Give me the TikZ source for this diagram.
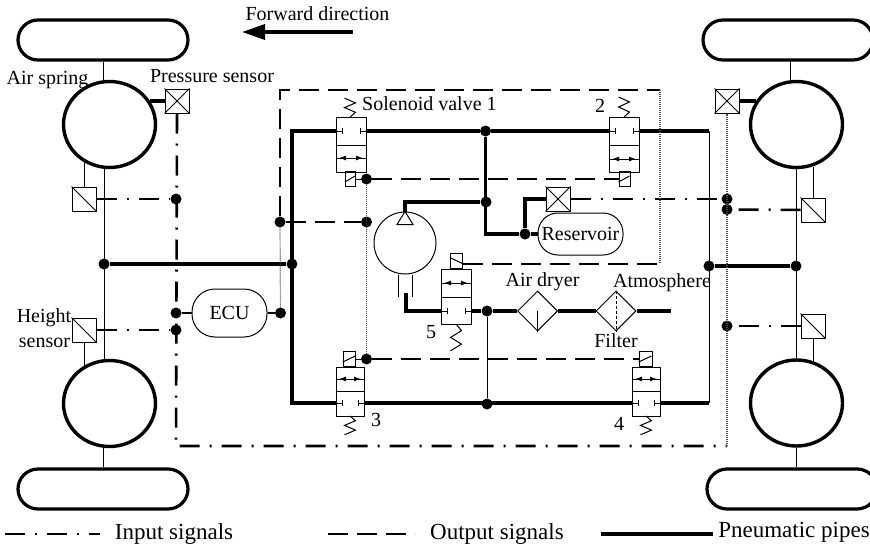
\documentclass[tikz,border=0pt]{standalone}
\usepackage{fontspec}
\setmainfont{Liberation Serif}
\usetikzlibrary{shapes.geometric}
\usetikzlibrary{arrows.meta}
\tikzset{
  tyre/.style={draw, line width=3.2pt, rounded corners=20pt, minimum width=170pt, minimum height=40pt},
  wheel/.style={draw, ellipse, line width=3.4pt, minimum width=92pt, minimum height=86pt},
  sensorbox/.style={draw, rectangle, fill=white, line width=1pt, minimum size=24pt, inner sep=0pt},
  valvebox/.style={draw, rectangle, line width=1pt, inner sep=0pt},
  capsule/.style={draw, rectangle, line width=1pt, align=center, font=\fontsize{20}{22}\selectfont},
  filterbox/.style={draw, diamond, fill=white, line width=1pt, minimum size=40pt, inner sep=0pt},
  dot/.style={circle, fill=black, inner sep=0pt, minimum size=11pt},
  thinline/.style={line width=1pt},
  pipe/.style={line width=3.6pt},
  inputline/.style={line width=2.6pt, dash pattern=on 20pt off 10pt on 2pt off 10pt},
  outputline/.style={line width=2.6pt, dash pattern=on 20pt off 9pt},
  busline/.style={line width=1.2pt, black!70, dash pattern=on 1pt off 1pt},
  txt/.style={inner sep=0pt, font=\fontsize{20}{22}\selectfont},
  keytxt/.style={inner sep=0pt, font=\fontsize{23}{25}\selectfont},
}
\begin{document}
\begin{tikzpicture}[x=1pt,y=-1pt]
  \useasboundingbox (0,0) rectangle (870,546);
  % Tyres and air springs
  \node[tyre] (tyreTL) at (103,40) {};
  \node[tyre] (tyreTR) at (788,40) {};
  \node[tyre] (tyreBL) at (103,489) {};
  \node[tyre] (tyreBR) at (792,489) {};
  \node[wheel] (wheelTL) at (109.5,124.5) {};
  \node[wheel] (wheelTR) at (796.5,124.5) {};
  \node[wheel] (wheelBL) at (109.5,403.5) {};
  \node[wheel] (wheelBR) at (796.5,403) {};
  \coordinate (stemTR) at (790,60);
  \draw[thinline] (tyreTL.south) -- (tyreTL.south |- wheelTL.north);
  \draw[thinline] (tyreBL.north) -- (tyreBL.north |- wheelBL.south);
  \draw[thinline] (stemTR) -- (stemTR |- wheelTR.north);
  \draw[thinline] (wheelBR.south) -- (wheelBR.south |- tyreBR.north);

  % Sensors
  \node[sensorbox] (psTL) at (177,101) {};
  \node[sensorbox] (psTR) at (727,101) {};
  \node[sensorbox] (psM) at (558,199) {};
  \node[sensorbox] (hsTL) at (84,199) {};
  \node[sensorbox] (hsBL) at (84,330) {};
  \node[sensorbox] (hsTR) at (813,210) {};
  \node[sensorbox] (hsBR) at (813,326) {};
  \foreach \name in {psTL,psTR,psM}{
    \draw[thinline] (\name.north west) -- (\name.south east);
    \draw[thinline] (\name.north east) -- (\name.south west);
  }
  \foreach \name in {hsTL,hsBL,hsTR,hsBR}{
    \draw[thinline] (\name.north west) -- (\name.south east);
  }
  \draw[pipe] (psTL.west) -- (psTL.west -| wheelTL.30);
  \draw[pipe] (psTR.east) -- (psTR.east -| wheelTR.150);
  \draw[thinline] (hsTL.north) -- (hsTL.north |- wheelTL.235);
  \draw[thinline] (hsBL.south) -- (hsBL.south |- wheelBL.125);
  \draw[thinline] (hsTR.north) -- (hsTR.north |- wheelTR.-70);
  \draw[thinline] (hsBR.south) -- (hsBR.south |- wheelBR.70);

  % Valves
  \foreach \name/\lx/\rx/\ty/\by/\dy/\py/\ay in {
      v1/336/366/117/172/145/131/158, v2/609/639/117/172/145/131/159,
      v3/336/364/367/416/391/403/379, v4/632/660/367/416/391/403/379,
      v5/441/471/269/324/297/311/283}{
    \node[valvebox, minimum width=\rx-\lx, minimum height=\by-\ty] (\name) at ({(\lx+\rx)/2},{(\ty+\by)/2}) {};
    \coordinate (\name-l) at (\lx,\py);
    \coordinate (\name-r) at (\rx,\py);
    \draw[thinline] (\lx,\dy) -- (\rx,\dy);
    \draw[thinline] (\name-l) -- ++(6,0) ++(0,-3) -- ++(0,6);
    \draw[thinline] (\name-r) -- ++(-6,0) ++(0,-3) -- ++(0,6);
    \draw[thinline] (\lx,\ay) -- (\rx,\ay);
    \draw[-{Latex[length=7pt,width=5pt]},thinline] ({\lx+12},\ay) -- ({\lx+3},\ay);
    \draw[-{Latex[length=7pt,width=5pt]},thinline] ({\rx-12},\ay) -- ({\rx-3},\ay);
  }
  % Springs
  \foreach \cx/\sy/\sd/\st in {350/117/-1/4.7, 624/117/-1/5, 350/416/1/4.7, 646/416/1/4.7, 456/324/1/6.7}{
    \draw[thinline] (\cx,\sy) -- ++(5.5,\sd*\st) -- ++(-11,\sd*\st) -- ++(11,\sd*\st) -- ++(-11,\sd*\st);
  }
  % Coils
  \foreach \name/\cx/\cy/\cw/\sl in {c1/350.5/179/10/1, c2/624.5/179/11/1, c3/349.5/359/12.5/1, c4/645.5/359/13/1, c5/456.5/260.5/12.5/-1}{
    \node[valvebox, minimum width=\cw, minimum height=15] (\name) at (\cx,\cy) {};
    \draw[thinline] (\name.west) ++(0,\sl*3) -- ++(\cw,-\sl*6);
  }

  % Pump, tank, filters, ECU
  \node[draw, circle, thinline, minimum size=62pt, inner sep=0pt] (pump) at (405,243) {};
  \draw[thinline] (pump.north) -- ++(-8,13) -- ++(16,0) -- cycle;
  \draw[thinline] ([xshift=-7pt]pump.south) -- ++(0,22);
  \draw[thinline] ([xshift=7pt]pump.south) -- ++(0,22);
  \node[capsule, rounded corners=20pt, minimum width=85pt, minimum height=42pt] (tank) at (580.5,234) {Reservoir};
  \node[capsule, rounded corners=23pt, minimum width=75pt, minimum height=48pt] (ecu) at (229.5,313) {ECU};
  \node[filterbox] (dryer) at (537.5,311) {};
  \node[filterbox] (filter) at (616,311) {};
  \draw[thinline] (dryer.south) -- (dryer.center);
  \draw[thinline, densely dashed] (filter.north) -- (filter.south);

  % Junctions
  \node[dot] (axleL) at (104,264) {};
  \node[dot] (axleM) at (292,264) {};
  \node[dot] (axleN) at (709,266) {};
  \node[dot] (axleR) at (796,266) {};
  \node[dot] (inA) at (176,199) {};
  \node[dot] (inB) at (176,313) {};
  \node[dot] (inC) at (176,330) {};
  \node[dot] (inD) at (727,199) {};
  \node[dot] (inE) at (727,209.5) {};
  \node[dot] (inF) at (727,326) {};
  \node[dot] (outA) at (280,222) {};
  \node[dot] (outB) at (366.5,222) {};
  \node[dot] (outC) at (366.5,179) {};
  \node[dot] (outD) at (366.5,359) {};
  \node[dot] (outE) at (280.5,313) {};
  \node[dot] (pipeA) at (485.5,131) {};
  \node[dot] (pipeB) at (486,202) {};
  \node[dot] (pipeC) at (525,234) {};
  \node[dot] (pipeD) at (487,311) {};
  \node[dot] (pipeE) at (487,404) {};

  \coordinate (pipeTL) at (292,131);
  \coordinate (pipeBL) at (292,403);
  \coordinate (pipeTR) at (709,131);
  \coordinate (pipeBR) at (709,403);
  \coordinate (pumpOut) at (406,293);
  \coordinate (ventEnd) at (671,311);
  \coordinate (boxTL) at (280,90);
  \coordinate (boxTR) at (660,90);
  \coordinate (boxBR) at (660,264);
  \coordinate (coilOut) at (463,264);
  \coordinate (sigBL) at (176,446);
  \coordinate (sigBR) at (727,446);

  % Pneumatic pipes
  \draw[thinline] (axleL |- wheelTL.south) -- (axleL |- wheelBL.north);
  \draw[thinline] (axleR |- wheelTR.south) -- (axleR |- wheelBR.north);
  \draw[pipe] (axleL) -- (axleM);
  \draw[pipe] (axleN) -- (axleR);
  \draw[pipe] (v1-l) -- (pipeTL) -- (pipeBL) -- (v3-l);
  \draw[pipe] (v1-r) -- (pipeA) -- (v2-l);
  \draw[pipe] (v2-r) -- (pipeTR);
  \draw[pipe] (v4-r) -- (pipeBR);
  \draw[thinline] (pipeTR) -- (pipeBR);
  \draw[pipe] (v3-r) -- (v4-l);
  \draw[pipe] (pipeA) |- (pipeC);
  \draw[pipe] (pipeC) -- (tank);
  \draw[pipe] (pipeC) |- (psM);
  \draw[pipe] (pipeB) -| (pump.north);
  \draw[pipe] (pumpOut) |- (v5-l);
  \draw[pipe] (v5-r) -- (pipeD);
  \draw[pipe] (pipeD) -- (dryer);
  \draw[pipe] (dryer) -- (filter);
  \draw[pipe] (filter) -- (ventEnd);
  \draw[thinline] (pipeD) -- (pipeE);

  % Input signals
  \draw[inputline] (psTL.south) -- (sigBL) -- (sigBR);
  \draw[busline] (sigBR) -- (psTR.south);
  \draw[inputline] (hsTL) -- (inA);
  \draw[inputline] (hsBL) -- (inC);
  \draw[inputline] (psM) -- (inD);
  \draw[inputline] (hsTR) -- (inE);
  \draw[inputline] (hsBR) -- (inF);
  \draw[line width=1.6pt] (inB) -- (ecu);

  % Output signals
  \draw[line width=1.6pt] (ecu) -- (outE);
  \draw[busline] (outE) -- (outA);
  \draw[outputline] (outA) -- (boxTL) -- (boxTR);
  \draw[busline] (boxTR) -- (boxBR);
  \draw[outputline] (coilOut) -- (boxBR);
  \draw[outputline] (outA) -- (outB);
  \draw[busline] (outC) -- (outD);
  \draw[outputline] (outC) -- (c2);
  \draw[outputline] (outD) -- (c4);
  \draw[thinline] (c1) -- (outC);
  \draw[thinline] (c3) -- (outD);

  % Forward direction
  \coordinate (fwdA) at (353,32);
  \coordinate (fwdB) at (242,32);
  \draw[-{Triangle[length=23pt,width=15pt]}, line width=3.6pt] (fwdA) -- (fwdB);

  % Labels
  \node[txt] (fwdlabel) at (317.5,14) {Forward direction};
  \node[txt] (airspring) at (47.5,80) {Air spring};
  \node[txt] (pslabel) at (212,76) {Pressure sensor};
  \node[txt] (hslabelA) at (44,318) {Height};
  \node[txt] (hslabelB) at (44.5,343) {sensor};
  \node[txt, anchor=west] (v1label) at (362,104) {Solenoid valve 1};
  \node[txt] (v2label) at (600,106) {2};
  \node[txt] (v3label) at (376,420) {3};
  \node[txt] (v4label) at (619,424) {4};
  \node[txt] (v5label) at (431,332) {5};
  \node[txt] (dryerlabel) at (542.5,282) {Air dryer};
  \node[txt] (atmlabel) at (662,283) {Atmosphere};
  \node[txt] (filterlabel) at (616,341) {Filter};

  % Legend
  \coordinate (keyInA) at (5,534);
  \coordinate (keyInB) at (100,534);
  \coordinate (keyOutA) at (328,534);
  \coordinate (keyOutB) at (415,534);
  \coordinate (keyPipeA) at (601,534);
  \coordinate (keyPipeB) at (713,534);
  \draw[inputline] (keyInA) -- (keyInB);
  \draw[outputline] (keyOutA) -- (keyOutB);
  \draw[pipe] (keyPipeA) -- (keyPipeB);
  \node[keytxt] (keyIn) at (174,534) {Input signals};
  \node[keytxt] (keyOut) at (497,534) {Output signals};
  \node[keytxt] (keyPipe) at (794,532) {Pneumatic pipes};
\end{tikzpicture}
\end{document}
